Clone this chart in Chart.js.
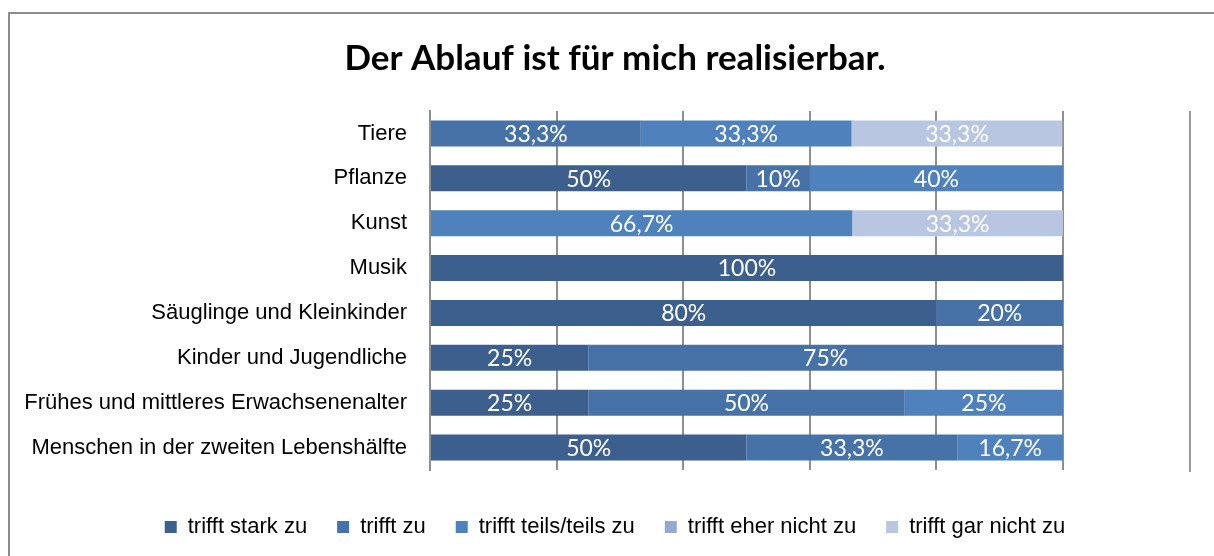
<!DOCTYPE html>
<html>
<head>
<meta charset="utf-8">
<script src="https://cdn.jsdelivr.net/npm/chart.js@4.4.1/dist/chart.umd.min.js"></script>
<style>
  html, body { margin: 0; padding: 0; background: #ffffff; }
  #wrap { width: 1214px; height: 556px; position: relative; }
</style>
</head>
<body>
<div id="wrap"><canvas id="c" width="1214" height="556"></canvas></div>
<script>
const title = 'Der Ablauf ist für mich realisierbar.';
const categories = [
  'Tiere',
  'Pflanze',
  'Kunst',
  'Musik',
  'Säuglinge und Kleinkinder',
  'Kinder und Jugendliche',
  'Frühes und mittleres Erwachsenenalter',
  'Menschen in der zweiten Lebenshälfte'
];
const seriesNames = ['trifft stark zu', 'trifft zu', 'trifft teils/teils zu', 'trifft eher nicht zu', 'trifft gar nicht zu'];
const starkZu     = [0,    50, 0,    100, 80, 25, 25, 50];
const zu          = [33.3, 10, 0,    0,   20, 75, 50, 33.3];
const teilsTeils  = [33.3, 40, 66.7, 0,   0,  0,  25, 16.7];
const eherNicht   = [0,    0,  0,    0,   0,  0,  0,  0];
const garNicht    = [33.3, 0,  33.3, 0,   0,  0,  0,  0];
const xTicks = [0, 20, 40, 60, 80, 100];

const colors = ['#3c5f8e', '#4672a7', '#4f81bd', '#95a9d0', '#b9c6e1'];
const seriesValues = [starkZu, zu, teilsTeils, eherNicht, garNicht];

function fmt(v) {
  const s = Number.isInteger(v) ? String(v) : v.toFixed(1).replace('.', ',');
  return s + '%';
}

const framePlugin = {
  id: 'frame',
  beforeDraw(chart) {
    const ctx = chart.ctx;
    ctx.save();
    ctx.fillStyle = '#ffffff';
    ctx.fillRect(0, 0, chart.width, chart.height);
    ctx.fillStyle = '#8c8c8c';
    ctx.fillRect(8, 12, chart.width - 8, 2);
    ctx.fillRect(8, 12, 2, chart.height - 12);
    ctx.restore();
  },
  afterDraw(chart) {
    const ctx = chart.ctx;
    const a = chart.chartArea;
    ctx.save();
    ctx.strokeStyle = '#999999';
    ctx.lineWidth = 2;
    ctx.beginPath();
    const x = a.right + 127;
    ctx.moveTo(x, a.top);
    ctx.lineTo(x, a.bottom + 2);
    ctx.stroke();
    ctx.restore();
  }
};

const labelPlugin = {
  id: 'segLabels',
  afterDatasetsDraw(chart) {
    const ctx = chart.ctx;
    ctx.save();
    ctx.font = '23px Lato';
    ctx.fillStyle = '#ffffff';
    ctx.textAlign = 'center';
    ctx.textBaseline = 'middle';
    chart.data.datasets.forEach((ds, i) => {
      const meta = chart.getDatasetMeta(i);
      meta.data.forEach((el, j) => {
        const v = ds.data[j];
        if (!v) return;
        ctx.fillText(fmt(v), (el.x + el.base) / 2, el.y + 1);
      });
    });
    ctx.restore();
  }
};

new Chart(document.getElementById('c'), {
  type: 'bar',
  data: {
    labels: categories,
    datasets: seriesNames.map((n, i) => ({
      label: n,
      data: seriesValues[i],
      backgroundColor: colors[i],
      borderWidth: 0,
      categoryPercentage: 0.58,
      barPercentage: 1.0
    }))
  },
  options: {
    indexAxis: 'y',
    responsive: false,
    animation: false,
    layout: { padding: { left: 16, right: 0, top: 0, bottom: 8 } },
    scales: {
      x: {
        stacked: true,
        min: 0,
        max: 100,
        afterBuildTicks(s) { s.ticks = xTicks.map(v => ({ value: v })); },
        ticks: { display: false },
        grid: { color: '#8f8f8f', lineWidth: 2, drawTicks: false },
        border: { display: false },
        afterFit(s) { s.height = 16; }
      },
      y: {
        stacked: true,
        ticks: { color: '#000000', font: { family: 'Liberation Sans', size: 22 }, padding: 23 },
        grid: { display: false, drawTicks: false },
        border: { display: true, color: '#8f8f8f', width: 2 },
        afterFit(s) { s.width = 414; }
      },
      y2: {
        type: 'category',
        position: 'right',
        display: true,
        ticks: { display: false },
        grid: { display: false, drawTicks: false },
        border: { display: false },
        afterFit(s) { s.width = 151; }
      }
    },
    plugins: {
      title: {
        display: true,
        text: title,
        color: '#000000',
        font: { family: 'Lato', size: 35, weight: 'bold' },
        padding: { top: 38, bottom: 31 }
      },
      legend: {
        position: 'bottom',
        labels: {
          color: '#000000',
          font: { family: 'Liberation Sans', size: 22 },
          boxWidth: 12,
          boxHeight: 12,
          padding: 30
        }
      },
      tooltip: { enabled: false }
    }
  },
  plugins: [framePlugin, labelPlugin]
});
</script>
</body>
</html>
